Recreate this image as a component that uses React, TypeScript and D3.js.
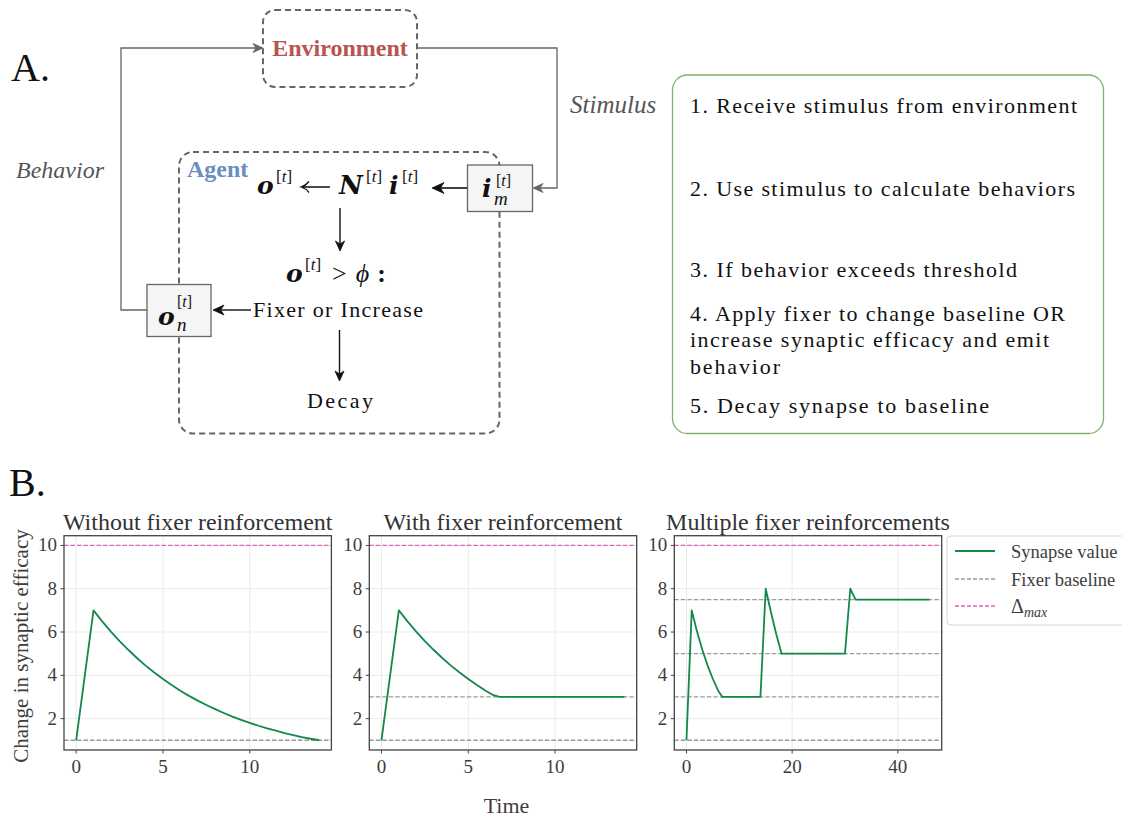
import React from 'react';
import * as d3 from 'd3';

// ---------- Data ----------
const panelTitles = [
  'Without fixer reinforcement',
  'With fixer reinforcement',
  'Multiple fixer reinforcements',
];

const timeA = [0, 1, 1.5, 2, 2.5, 3, 3.5, 4, 4.5, 5, 5.5, 6, 6.5, 7, 7.5, 8, 8.5, 9, 9.5, 10, 10.5, 11, 11.5, 12, 12.5, 13, 13.5, 14];
const synapseA = [1, 7, 6.49, 6.02, 5.58, 5.18, 4.8, 4.45, 4.13, 3.83, 3.55, 3.29, 3.05, 2.83, 2.63, 2.44, 2.26, 2.09, 1.94, 1.8, 1.67, 1.55, 1.44, 1.33, 1.24, 1.15, 1.07, 1.0];

const timeB = [0, 1, 1.5, 2, 2.5, 3, 3.5, 4, 4.5, 5, 5.5, 6, 6.4, 6.8, 7, 8, 9, 10, 11, 12, 13, 14];
const synapseB = [1, 7, 6.49, 6.02, 5.58, 5.18, 4.8, 4.45, 4.13, 3.83, 3.55, 3.29, 3.1, 3.0, 3, 3, 3, 3, 3, 3, 3, 3];

const timeC = [0, 1, 2, 3, 4, 5, 6, 6.8, 14, 15, 16, 17, 18, 30, 31, 32, 46];
const synapseC = [1, 7, 6.02, 5.18, 4.45, 3.83, 3.29, 3.0, 3, 8, 6.9, 5.9, 5.0, 5, 8, 7.5, 7.5];

const baselinesA = [1];
const baselinesB = [1, 3];
const baselinesC = [1, 3, 5, 7.5];
const deltaMax = 10;

const xTicksA = [0, 5, 10];
const xTicksB = [0, 5, 10];
const xTicksC = [0, 20, 40];
const yTicks = [2, 4, 6, 8, 10];

const legendLabels = ['Synapse value', 'Fixer baseline'];

const steps = [
  '1. Receive stimulus from environment',
  '2. Use stimulus to calculate behaviors',
  '3. If behavior exceeds threshold',
  '4. Apply fixer to change baseline OR',
  'increase synaptic efficacy and emit',
  'behavior',
  '5. Decay synapse to baseline',
];
const stepWidths = [387, 385, 327, 375, 359, 90, 299];
const stepBaselines = [113, 196, 277, 321, 347, 374, 413];

// ---------- Styles ----------
const SERIF = '"Liberation Serif", "DejaVu Serif", serif';
const MATH = '"DejaVu Serif", "Liberation Serif", serif';
const GREEN = '#13884a';
const PINK = '#e063b8';
const GRAY_DASH = '#9a9a9a';
const TEXT = '#3d3d3d';

const panels = [
  { title: panelTitles[0], t: timeA, v: synapseA, base: baselinesA, xt: xTicksA, left: 64 },
  { title: panelTitles[1], t: timeB, v: synapseB, base: baselinesB, xt: xTicksB, left: 369.3 },
  { title: panelTitles[2], t: timeC, v: synapseC, base: baselinesC, xt: xTicksC, left: 674.3 },
];
const PW = 267.4;
const PT = 535.7;
const PH = 214.3;

function pad(ext: [number, number]): [number, number] {
  const r = ext[1] - ext[0];
  return [ext[0] - 0.05 * r, ext[1] + 0.05 * r];
}

function Panel({ p }: { p: any }) {
  const xExt = d3.extent(p.t as number[]) as [number, number];
  const x = d3.scaleLinear().domain(pad(xExt)).range([p.left, p.left + PW]);
  const y = d3.scaleLinear().domain(pad([1, deltaMax])).range([PT + PH, PT]);
  const line = d3
    .line<number>()
    .x((_, i) => x(p.t[i]))
    .y((d) => y(d));
  return (
    <g>
      {p.xt.map((t: number) => (
        <line key={'gx' + t} x1={x(t)} x2={x(t)} y1={PT} y2={PT + PH} stroke="#ebebeb" strokeWidth={1} />
      ))}
      {yTicks.map((t) => (
        <line key={'gy' + t} x1={p.left} x2={p.left + PW} y1={y(t)} y2={y(t)} stroke="#ebebeb" strokeWidth={1} />
      ))}
      <line x1={p.left} x2={p.left + PW} y1={y(deltaMax)} y2={y(deltaMax)} stroke={PINK} strokeWidth={1.3} strokeDasharray="4.5 2" />
      {p.base.map((b: number) => (
        <line key={'b' + b} x1={p.left} x2={p.left + PW} y1={y(b)} y2={y(b)} stroke={GRAY_DASH} strokeWidth={1.3} strokeDasharray="4.5 2" />
      ))}
      <path d={line(p.v) || ''} fill="none" stroke={GREEN} strokeWidth={1.8} strokeLinejoin="round" />
      <rect x={p.left} y={PT} width={PW} height={PH} fill="none" stroke="#444" strokeWidth={1.3} />
      {yTicks.map((t) => (
        <g key={'yt' + t}>
          <line x1={p.left - 3.5} x2={p.left} y1={y(t)} y2={y(t)} stroke="#444" strokeWidth={1} />
          <text x={p.left - 7} y={y(t) + 6} textAnchor="end" fontSize={19} fill={TEXT} fontFamily={SERIF}>
            {t}
          </text>
        </g>
      ))}
      {p.xt.map((t: number) => (
        <g key={'xt' + t}>
          <line x1={x(t)} x2={x(t)} y1={PT + PH} y2={PT + PH + 3.5} stroke="#444" strokeWidth={1} />
          <text x={x(t)} y={773} textAnchor="middle" fontSize={19} fill={TEXT} fontFamily={SERIF}>
            {t}
          </text>
        </g>
      ))}
      <text x={p.left + PW / 2} y={530} textAnchor="middle" fontSize={24} fill="#333" fontFamily={SERIF}>
        {p.title}
      </text>
    </g>
  );
}

function Arrow({ x, y, dir, color, size = 10 }: { x: number; y: number; dir: number; color: string; size?: number }) {
  const w = size * 0.45;
  const d = `M0,0 L${-size},${-w} L${-size * 0.7},0 L${-size},${w} Z`;
  return <path d={d} fill={color} stroke={color} strokeWidth={0.8} transform={`translate(${x},${y}) rotate(${dir})`} />;
}

function Sup({ x, y, size = 17 }: { x: number; y: number; size?: number }) {
  return (
    <text x={x} y={y} fontFamily={SERIF} fill="#111" fontSize={size}>
      <tspan>[</tspan>
      <tspan fontStyle="italic">t</tspan>
      <tspan>]</tspan>
    </text>
  );
}

function Bold({ x, y, ch, size = 25 }: { x: number; y: number; ch: string; size?: number }) {
  return (
    <text x={x} y={y} fontFamily={MATH} fill="#111" fontSize={size} fontWeight="bold" fontStyle="italic">
      {ch}
    </text>
  );
}

function Diagram() {
  const g = '#666';
  return (
    <g>
      <text x={11} y={81} fontSize={40} fontFamily={SERIF} fill="#111">A.</text>
      <rect x={263} y={10} width={154} height={77} rx={12} fill="none" stroke={g} strokeWidth={2} strokeDasharray="6 4" />
      <text x={340} y={56} textAnchor="middle" fontSize={24} fontWeight="bold" fontFamily={SERIF} fill="#b85450">Environment</text>
      <polyline points="417,48 557,48 557,188 534,188" fill="none" stroke={g} strokeWidth={1.3} />
      <Arrow x={533} y={188} dir={180} color={g} />
      <polyline points="147,310 121,310 121,48 262,48" fill="none" stroke={g} strokeWidth={1.3} />
      <Arrow x={263} y={48} dir={0} color={g} />
      <text x={570} y={113} fontSize={25} fontStyle="italic" fontFamily={SERIF} fill="#555">Stimulus</text>
      <text x={16} y={178} fontSize={24} fontStyle="italic" fontFamily={SERIF} fill="#555">Behavior</text>
      <rect x={179} y={152} width={320.5} height={281.5} rx={14} fill="none" stroke={g} strokeWidth={2} strokeDasharray="6 4" />
      <text x={187} y={177} fontSize={24} fontWeight="bold" fontFamily={SERIF} fill="#6c8ebf">Agent</text>
      {/* i_m box */}
      <rect x={467.5} y={165} width={65} height={46.5} fill="#f5f5f5" stroke={g} strokeWidth={1.3} />
      <Bold x={482} y={197} ch="i" />
      <Sup x={496} y={186} size={16} />
      <text x={494} y={205} fontFamily={SERIF} fill="#111" fontSize={19} fontStyle="italic">m</text>
      {/* o_n box */}
      <rect x={147} y={284.5} width={64} height={52} fill="#f5f5f5" stroke={g} strokeWidth={1.3} />
      <Bold x={158} y={325} ch="o" />
      <Sup x={177} y={307} size={16} />
      <text x={177} y={331} fontFamily={SERIF} fill="#111" fontSize={19} fontStyle="italic">n</text>
      {/* formula */}
      <Bold x={257} y={194} ch="o" />
      <Sup x={276} y={182} />
      <path d="M330,187 L303,187 M309,181.5 Q306,185.5 301,187 Q306,188.5 309,192.5" fill="none" stroke="#111" strokeWidth={1.3} />
      <Bold x={339} y={194} ch="N" size={26} />
      <Sup x={366} y={182} />
      <Bold x={389} y={194} ch="i" />
      <Sup x={402} y={182} />
      <line x1={467} y1={188} x2={440} y2={188} stroke="#111" strokeWidth={1.6} />
      <Arrow x={432} y={188} dir={180} color="#111" size={12} />
      <line x1={340} y1={208} x2={340} y2={244} stroke="#111" strokeWidth={1.4} />
      <Arrow x={340} y={251} dir={90} color="#111" size={10} />
      {/* condition */}
      <Bold x={286} y={282} ch="o" />
      <Sup x={305} y={270} />
      <text x={332} y={282} fontSize={26} fontFamily={SERIF} fill="#111">
        <tspan>&gt;</tspan>
        <tspan dx={9} fontStyle="italic">ϕ</tspan>
        <tspan dx={8} fontWeight="bold">:</tspan>
      </text>
      <text x={253} y={317} fontSize={22} fontFamily={SERIF} fill="#111" textLength={170} lengthAdjust="spacing">Fixer or Increase</text>
      <line x1={251} y1={310} x2={221} y2={310} stroke="#111" strokeWidth={1.4} />
      <Arrow x={213} y={310} dir={180} color="#111" size={11} />
      <line x1={339.5} y1={330} x2={339.5} y2={374} stroke="#111" strokeWidth={1.4} />
      <Arrow x={339.5} y={381} dir={90} color="#111" size={10} />
      <text x={307} y={408} fontSize={22} fontFamily={SERIF} fill="#111" textLength={66} lengthAdjust="spacing">Decay</text>
      {/* steps box */}
      <rect x={672.5} y={75} width={431} height={358.5} rx={15} fill="none" stroke="#82b366" strokeWidth={1.3} />
      {steps.map((s, i) => (
        <text key={i} x={690} y={stepBaselines[i]} fontSize={22} fontFamily={SERIF} fill="#111" textLength={stepWidths[i]} lengthAdjust="spacing">
          {s}
        </text>
      ))}
    </g>
  );
}

function Legend() {
  const rows = [
    { label: legendLabels[0], color: GREEN, dash: undefined as string | undefined, y: 551 },
    { label: legendLabels[1], color: GRAY_DASH, dash: '4 2', y: 579 },
  ];
  return (
    <g>
      <rect x={947} y={536} width={200} height={89} rx={4} fill="#fff" fillOpacity={0.8} stroke="#d6d6d6" strokeWidth={1} />
      {rows.map((r) => (
        <g key={r.label}>
          <line x1={955} x2={995} y1={r.y} y2={r.y} stroke={r.color} strokeWidth={r.dash ? 1.3 : 1.8} strokeDasharray={r.dash} />
          <text x={1011} y={r.y + 7} fontSize={18.5} fill={TEXT} fontFamily={SERIF}>{r.label}</text>
        </g>
      ))}
      <line x1={955} x2={995} y1={606} y2={606} stroke={PINK} strokeWidth={1.3} strokeDasharray="4 2" />
      <text x={1011} y={613} fontSize={20} fill={TEXT} fontFamily={SERIF}>
        <tspan>Δ</tspan>
        <tspan fontSize={14} fontStyle="italic" dy={4}>max</tspan>
      </text>
    </g>
  );
}

export default function App() {
  return (
    <svg width={1122} height={818} style={{ position: 'absolute', left: 0, top: 0, background: '#fff' }}>
      <rect x={0} y={0} width={1122} height={818} fill="#fff" />
      <Diagram />
      <text x={9} y={496} fontSize={40} fontFamily={SERIF} fill="#111">B.</text>
      {panels.map((p, i) => (
        <Panel key={i} p={p} />
      ))}
      <Legend />
      <text x={28} y={646} fontSize={21} fill={TEXT} fontFamily={SERIF} textAnchor="middle" transform="rotate(-90 28 646)">
        Change in synaptic efficacy
      </text>
      <text x={506.5} y={813} fontSize={22} fill={TEXT} fontFamily={SERIF} textAnchor="middle">Time</text>
    </svg>
  );
}
